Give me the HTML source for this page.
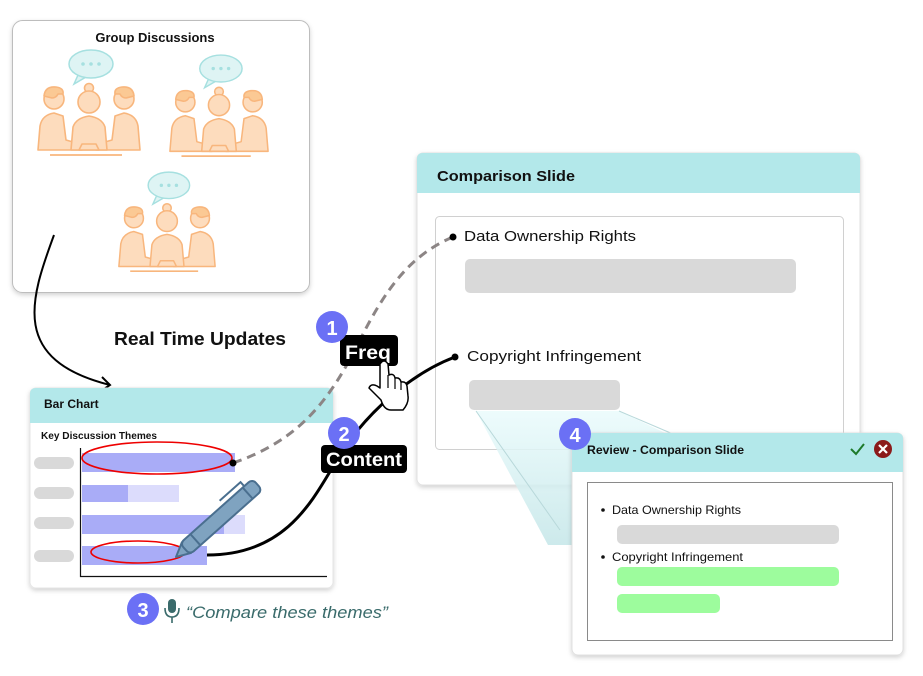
<!DOCTYPE html>
<html><head><meta charset="utf-8"><style>
html,body{margin:0;padding:0;background:#fff;width:923px;height:676px;overflow:hidden}
svg{display:block}
text{font-family:"Liberation Sans",sans-serif}
</style></head><body>
<svg width="923" height="676" viewBox="0 0 923 676" xmlns="http://www.w3.org/2000/svg">
<defs>
<filter id="sh" x="-10%" y="-10%" width="120%" height="125%"><feDropShadow dx="0" dy="2" stdDeviation="2.5" flood-color="#000" flood-opacity="0.18"/></filter>
<linearGradient id="wg" x1="0" y1="0" x2="0" y2="1"><stop offset="0" stop-color="#eafbfc"/><stop offset="1" stop-color="#c4e6e8"/></linearGradient>
<symbol id="grp" viewBox="0 0 106 110" overflow="visible">
 <g fill="#def4f4" stroke="#a6e0e0" stroke-width="1.5">
  <path d="M42 25 L38 34 L50 27 Z"/>
  <ellipse cx="55" cy="14" rx="22" ry="14"/>
 </g>
 <g fill="#a6e0e0"><circle cx="47" cy="14" r="1.8"/><circle cx="55" cy="14" r="1.8"/><circle cx="63" cy="14" r="1.8"/></g>
 <g fill="#fddcbd" stroke="#f8b67d" stroke-width="1.6" stroke-linejoin="round">
  <path d="M2 100 L4 76 Q6 65 18 63 L27 66 L30 90 L44 94 L46 100 Z"/>
  <circle cx="18" cy="49" r="10"/>
  <path d="M8 46 Q9 36 20 37 Q28 38 27 44 L22 44 Q20 48 16 48 Z" fill="#fbc994"/>
  <path d="M104 100 L102 76 Q100 65 88 63 L79 66 L76 90 L62 94 L60 100 Z"/>
  <circle cx="88" cy="49" r="10"/>
  <path d="M98 46 Q97 36 86 37 Q78 38 79 44 L84 44 Q86 48 90 48 Z" fill="#fbc994"/>
  <path d="M35 100 L37 77 Q40 68 53 66 Q66 68 69 77 L71 100 Z"/>
  <circle cx="53" cy="38" r="4.5"/>
  <circle cx="53" cy="52" r="11"/>
  <path d="M43 100 L46 94 L60 94 L63 100 Z"/>
 </g>
 <line x1="14" y1="105" x2="86" y2="105" stroke="#f8b67d" stroke-width="1.8"/>
</symbol>
</defs>

<rect x="12.5" y="20.5" width="297" height="272" rx="10" fill="#fff" stroke="#bdbdbd" filter="url(#sh)"/>
<text x="155" y="42" text-anchor="middle" font-size="13" font-weight="bold" fill="#111">Group Discussions</text>
<use href="#grp" x="36" y="50" width="106" height="110"/>
<use href="#grp" x="168" y="55" width="102" height="106"/>
<use href="#grp" x="117" y="172" width="100" height="104"/>

<path d="M54 235 C30 300 10 360 110 385" fill="none" stroke="#000" stroke-width="2"/>
<path d="M102 377 L110 385 L101 391" fill="none" stroke="#000" stroke-width="2"/>
<text x="114" y="345" font-size="18" font-weight="bold" fill="#111" textLength="172" lengthAdjust="spacingAndGlyphs">Real Time Updates</text>

<rect x="417" y="153" width="443" height="332" rx="6" fill="#fff" stroke="#e2e2e2" filter="url(#sh)"/>
<path d="M417 159 Q417 153 423 153 L854 153 Q860 153 860 159 L860 193 L417 193 Z" fill="#b3e8ea"/>
<text x="437" y="181" font-size="15" font-weight="bold" fill="#111" textLength="138" lengthAdjust="spacingAndGlyphs">Comparison Slide</text>
<rect x="435.5" y="216.5" width="408" height="233" rx="4" fill="#fff" stroke="#d0d0d0"/>
<text x="464" y="241" font-size="15" fill="#111" textLength="172" lengthAdjust="spacingAndGlyphs">Data Ownership Rights</text>
<rect x="465" y="259" width="331" height="34" rx="5" fill="#d9d9d9"/>
<text x="467" y="361" font-size="15" fill="#111" textLength="174" lengthAdjust="spacingAndGlyphs">Copyright Infringement</text>
<rect x="469" y="380" width="151" height="30" rx="5" fill="#d9d9d9"/>

<polygon points="476,411 619,411 680,440 572,440 572,545 548,545" fill="url(#wg)" opacity="0.85"/>
<line x1="476" y1="411" x2="560" y2="530" stroke="#b8d8da" stroke-width="1"/>
<line x1="619" y1="411" x2="680" y2="437" stroke="#b8d8da" stroke-width="1"/>

<rect x="30" y="388" width="303" height="200" rx="6" fill="#fff" stroke="#e6e6e6" filter="url(#sh)"/>
<path d="M30 394 Q30 388 36 388 L327 388 Q333 388 333 394 L333 423 L30 423 Z" fill="#b3e8ea"/>
<text x="44" y="408" font-size="12" font-weight="bold" fill="#111">Bar Chart</text>
<text x="41" y="439" font-size="10" font-weight="bold" fill="#111" textLength="116" lengthAdjust="spacingAndGlyphs">Key Discussion Themes</text>
<g fill="#d9d9d9">
<rect x="34" y="457" width="40" height="12" rx="6"/>
<rect x="34" y="487" width="40" height="12" rx="6"/>
<rect x="34" y="517" width="40" height="12" rx="6"/>
<rect x="34" y="550" width="40" height="12" rx="6"/>
</g>
<rect x="82" y="453" width="153" height="19" fill="#a9acf7"/>
<rect x="82" y="485" width="97" height="17" fill="#dcdcfc"/>
<rect x="82" y="485" width="46" height="17" fill="#a9acf7"/>
<rect x="82" y="515" width="163" height="19" fill="#dcdcfc"/>
<rect x="82" y="515" width="142" height="19" fill="#a9acf7"/>
<rect x="82" y="546" width="125" height="19" fill="#a9acf7"/>
<path d="M80.5 448 L80.5 576.5 L327 576.5" fill="none" stroke="#111" stroke-width="1.2"/>
<ellipse cx="157" cy="458" rx="75" ry="16" fill="none" stroke="#e00" stroke-width="1.6"/>
<ellipse cx="138" cy="552" rx="47" ry="11" fill="none" stroke="#e00" stroke-width="1.6"/>

<path d="M233 463 C300 440 330 400 360 340 C385 290 410 255 453 237" fill="none" stroke="#8c8585" stroke-width="3" stroke-dasharray="9 6"/>
<circle cx="233" cy="463" r="3.5" fill="#000"/>
<circle cx="453" cy="237" r="3.5" fill="#000"/>
<path d="M207 555 C300 555 320 480 350 440 C380 400 420 370 455 357" fill="none" stroke="#000" stroke-width="3"/>
<circle cx="455" cy="357" r="3.5" fill="#000"/>

<g transform="translate(176,557) rotate(-41.7)">
 <path d="M0 0 L14 -7 L14 7 Z" fill="#7fa3c0" stroke="#4a6f8f" stroke-width="2" stroke-linejoin="round"/>
 <rect x="12" y="-7.5" width="97" height="15" rx="5" fill="#7fa3c0" stroke="#4a6f8f" stroke-width="2"/>
 <line x1="26" y1="-7.5" x2="26" y2="7.5" stroke="#4a6f8f" stroke-width="2"/>
 <line x1="96" y1="-7.5" x2="96" y2="7.5" stroke="#4a6f8f" stroke-width="2"/>
 <path d="M98 -8 L98 -13 L70 -13" fill="none" stroke="#4a6f8f" stroke-width="2"/>
</g>

<rect x="340" y="335" width="58" height="31" rx="4" fill="#000"/>
<text x="345" y="359" font-size="19" font-weight="bold" fill="#fff" textLength="46" lengthAdjust="spacingAndGlyphs">Freq</text>
<circle cx="332" cy="327" r="16" fill="#6b70f5"/>
<text x="332" y="335" text-anchor="middle" font-size="20" font-weight="bold" fill="#fff">1</text>
<path d="M380 364 L380 388 L377 386 Q371 383 369 388 L381 400 Q384 410 391 410 L403 410 Q409 403 408 396 L407 386 Q406 381 401 382 Q400 377 395 378 Q394 373 389 375 L388 364 Q384 358 380 364 Z" fill="#fff" stroke="#000" stroke-width="1.5" stroke-linejoin="round"/>
<line x1="388" y1="375" x2="388" y2="388" stroke="#000" stroke-width="1.2"/>
<line x1="395" y1="378" x2="395" y2="389" stroke="#000" stroke-width="1.2"/>
<line x1="401" y1="382" x2="401" y2="390" stroke="#000" stroke-width="1.2"/>

<rect x="321" y="445" width="86" height="28" rx="4" fill="#000"/>
<text x="326" y="466" font-size="19" font-weight="bold" fill="#fff" textLength="76" lengthAdjust="spacingAndGlyphs">Content</text>
<circle cx="344" cy="433" r="16" fill="#6b70f5"/>
<text x="344" y="441" text-anchor="middle" font-size="20" font-weight="bold" fill="#fff">2</text>

<circle cx="143" cy="609" r="16" fill="#6b70f5"/>
<text x="143" y="617" text-anchor="middle" font-size="20" font-weight="bold" fill="#fff">3</text>
<rect x="168" y="599" width="8" height="14" rx="4" fill="#3a6b6b"/>
<path d="M165 608 Q165 617 172 617 Q179 617 179 608" fill="none" stroke="#3a6b6b" stroke-width="1.6"/>
<line x1="172" y1="617" x2="172" y2="623" stroke="#3a6b6b" stroke-width="1.6"/>
<text x="186" y="618" font-size="17" font-style="italic" fill="#3a6b6b" textLength="202" lengthAdjust="spacingAndGlyphs">“Compare these themes”</text>

<rect x="572" y="433" width="331" height="222" rx="6" fill="#fff" stroke="#e0e0e0" filter="url(#sh)"/>
<path d="M572 439 Q572 433 578 433 L897 433 Q903 433 903 439 L903 472 L572 472 Z" fill="#b3e8ea"/>
<text x="587" y="454" font-size="12" font-weight="bold" fill="#111" textLength="157" lengthAdjust="spacingAndGlyphs">Review - Comparison Slide</text>
<path d="M851 449 L856 454 L864 444" fill="none" stroke="#1e7a2a" stroke-width="2"/>
<circle cx="883" cy="449" r="9" fill="#8b1a1a"/>
<path d="M879 445 L887 453 M887 445 L879 453" stroke="#fff" stroke-width="2.2"/>
<rect x="587.5" y="482.5" width="305" height="158" fill="#fff" stroke="#8a8a8a"/>
<circle cx="603" cy="510" r="1.8" fill="#111"/>
<text x="612" y="514" font-size="12" fill="#111" textLength="129" lengthAdjust="spacingAndGlyphs">Data Ownership Rights</text>
<rect x="617" y="525" width="222" height="19" rx="5" fill="#d9d9d9"/>
<circle cx="603" cy="557" r="1.8" fill="#111"/>
<text x="612" y="561" font-size="12" fill="#111" textLength="131" lengthAdjust="spacingAndGlyphs">Copyright Infringement</text>
<rect x="617" y="567" width="222" height="19" rx="5" fill="#9dfc9d"/>
<rect x="617" y="594" width="103" height="19" rx="5" fill="#9dfc9d"/>
<circle cx="575" cy="434" r="16" fill="#6b70f5"/>
<text x="575" y="442" text-anchor="middle" font-size="20" font-weight="bold" fill="#fff">4</text>
</svg>
</body></html>
